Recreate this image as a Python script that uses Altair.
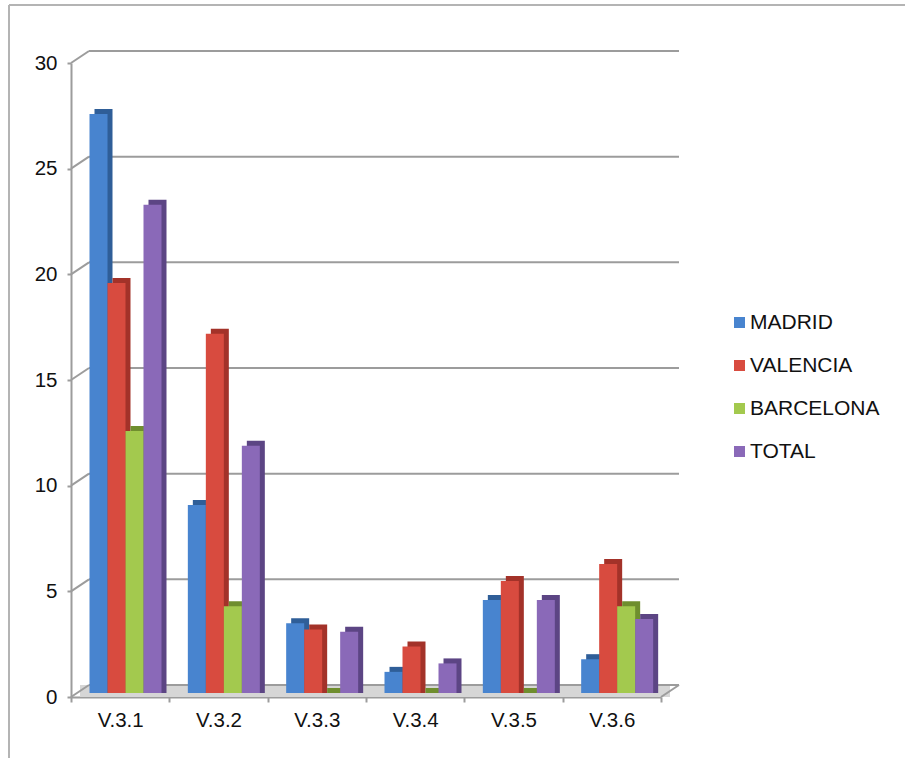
import altair as alt
import pandas as pd

# Survey blocks on the x axis and the cities compared in each block
categories = ["V.3.1", "V.3.2", "V.3.3", "V.3.4", "V.3.5", "V.3.6"]
cities = ["MADRID", "VALENCIA", "BARCELONA", "TOTAL"]

madrid = [27.4, 8.9, 3.3, 1.0, 4.4, 1.6]
valencia = [19.4, 17.0, 3.0, 2.2, 5.3, 6.1]
barcelona = [12.4, 4.1, 0.0, 0.0, 0.0, 4.1]
total = [23.1, 11.7, 2.9, 1.4, 4.4, 3.5]

y_ticks = [0, 5, 10, 15, 20, 25, 30]

front_colors = ["#4884CF", "#D84B3F", "#A3C94E", "#8A69B8"]
side_colors = ["#2F5E98", "#A33229", "#6F8E2E", "#5C4584"]

rows = []
for city, series in zip(cities, [madrid, valencia, barcelona, total]):
    for cat, v in zip(categories, series):
        rows.append({"cat": cat, "city": city, "value": v})
bars_df = pd.DataFrame(rows)
ticks_df = pd.DataFrame({"tick": y_ticks})
base_df = pd.DataFrame({"tick": [0]})

W, H = 590, 634          # plot area
DX, DY = 18, 12          # depth of the back wall, in pixels
LIFT = 4                 # bars stand slightly behind the front edge
SIDE = 5                 # visible thickness of each column

FONT = "Liberation Sans"
GRID = "#9C9C9C"

y_scale = alt.Scale(domain=[0, 30], nice=False, zero=True)
y_axis = alt.Axis(
    values=y_ticks, title=None, grid=False, labelFontSize=20.5, labelFont=FONT,
    labelColor="#111111", tickSize=4, tickWidth=2, tickColor=GRID,
    domainColor=GRID, domainWidth=2, labelPadding=10,
)
x_scale = alt.Scale(domain=categories, paddingInner=0, paddingOuter=0)
x_axis = alt.Axis(
    title=None, labelAngle=0, labelFontSize=20.5, labelFont=FONT,
    labelColor="#111111", tickSize=5, tickWidth=2, tickColor=GRID,
    tickBand="extent", domainColor=GRID, domainWidth=2, labelPadding=8,
)

# floor of the 3D box
floor = alt.Chart(base_df).mark_rect(color="#D6D6D6", y2Offset=-DY).encode(
    x=alt.value(DX / 2), x2=alt.value(W + DX / 2),
    y=alt.Y("tick:Q", scale=y_scale, axis=y_axis), y2=alt.Y2("tick:Q"),
)

# gridlines on the back wall
grid = alt.Chart(ticks_df).mark_rule(color=GRID, strokeWidth=2, yOffset=-DY).encode(
    y=alt.Y("tick:Q", scale=y_scale, axis=y_axis),
    x=alt.value(DX), x2=alt.value(W + DX),
)

# slanted connectors from the front axis to the back wall
connectors = alt.Chart(ticks_df).mark_rule(color=GRID, strokeWidth=2, y2Offset=-DY).encode(
    y=alt.Y("tick:Q", scale=y_scale, axis=y_axis), y2=alt.Y2("tick:Q"),
    x=alt.value(0), x2=alt.value(DX),
)
floor_edge = alt.Chart(base_df).mark_rule(color=GRID, strokeWidth=2, y2Offset=-DY).encode(
    y=alt.Y("tick:Q", scale=y_scale, axis=y_axis), y2=alt.Y2("tick:Q"),
    x=alt.value(W), x2=alt.value(W + DX),
)

# outer frame lines
frame_left = alt.Chart(base_df).mark_rule(color="#B4B4B4", strokeWidth=2).encode(
    x=alt.value(-62), y=alt.value(-58), y2=alt.value(H + 61),
)
frame_top = alt.Chart(base_df).mark_rule(color="#B4B4B4", strokeWidth=2).encode(
    x=alt.value(-62), x2=alt.value(W + 244), y=alt.value(-58),
)

# darker side/top faces, shifted up and right behind each column
sides = alt.Chart(bars_df).mark_bar(
    yOffset=-(LIFT + SIDE), y2Offset=-LIFT, strokeWidth=0
).encode(
    x=alt.X("cat:N", sort=categories, scale=x_scale, axis=x_axis),
    xOffset=alt.XOffset(
        "city:N", sort=cities,
        scale=alt.Scale(domain=cities, range=[18.5 + SIDE, 90.5 + SIDE],
                        paddingInner=0, paddingOuter=0),
    ),
    y=alt.Y("value:Q", scale=y_scale, axis=y_axis),
    y2=alt.datum(0),
    color=alt.Color("city:N", sort=cities,
                    scale=alt.Scale(domain=cities, range=side_colors), legend=None),
)

# front faces of the columns
fronts = alt.Chart(bars_df).mark_bar(
    yOffset=-LIFT, y2Offset=-LIFT, strokeWidth=0
).encode(
    x=alt.X("cat:N", sort=categories, scale=x_scale, axis=x_axis),
    xOffset=alt.XOffset(
        "city:N", sort=cities,
        scale=alt.Scale(domain=cities, range=[18.5, 90.5],
                        paddingInner=0, paddingOuter=0),
    ),
    y=alt.Y("value:Q", scale=y_scale, axis=y_axis),
    y2=alt.datum(0),
    color=alt.Color(
        "city:N", sort=cities,
        scale=alt.Scale(domain=cities, range=front_colors),
        legend=alt.Legend(
            orient="none", legendX=658, legendY=249, title=None,
            symbolType="square", symbolSize=121, symbolStrokeWidth=0,
            labelFontSize=21, labelFont=FONT, labelColor="#111111",
            rowPadding=21, labelOffset=0, padding=0,
        ),
    ),
)

chart = (
    alt.layer(frame_left, frame_top, floor, grid, connectors, floor_edge, sides, fronts)
    .resolve_scale(color="independent", xOffset="independent")
    .properties(
        width=W, height=H,
        autosize=alt.AutoSizeParams(type="none"),
        padding={"left": 71, "top": 63, "right": 244, "bottom": 61},
        background="white",
    )
    .configure_view(stroke=None)
)

chart.save("out.html", embed_options={"renderer": "svg", "actions": False})
